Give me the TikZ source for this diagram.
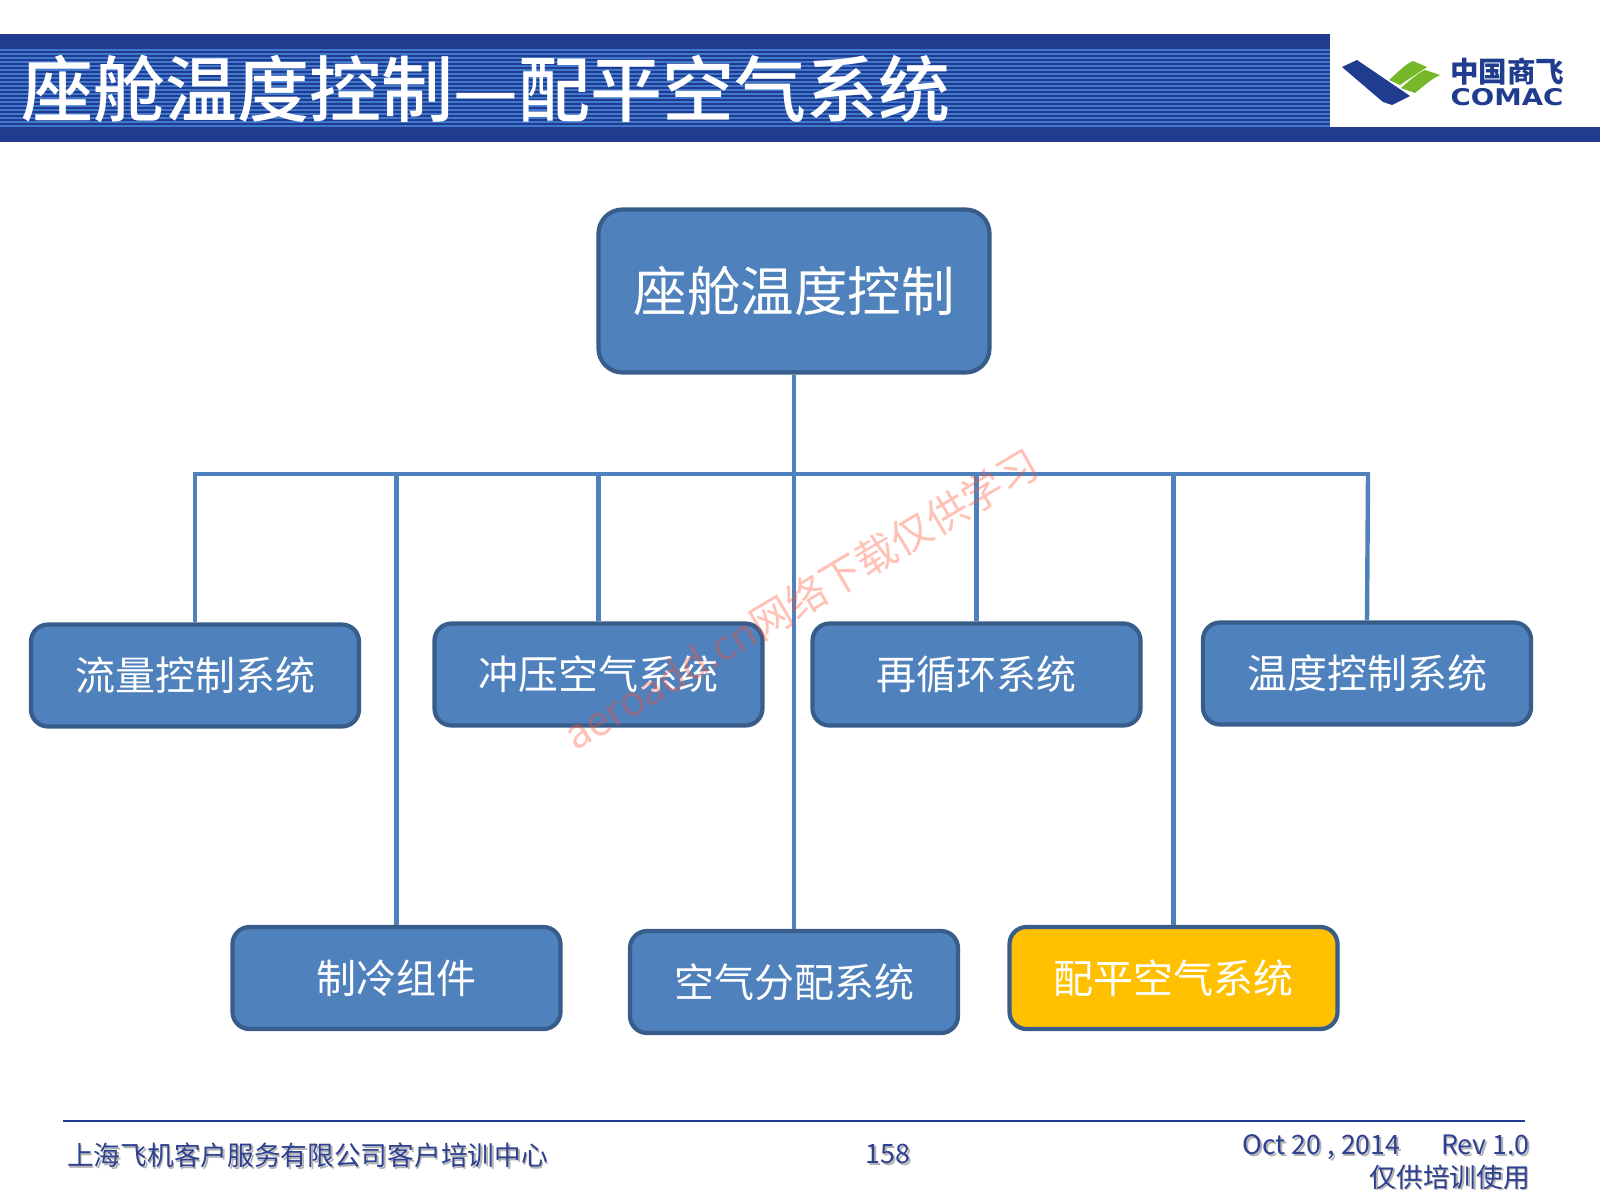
\documentclass[tikz,border=0pt]{standalone}
\usepackage{fontspec}
\setmainfont{Noto Sans CJK SC}
\newfontfamily\titlef{Noto Sans CJK SC Medium}
\newfontfamily\logof{DejaVu Sans}
\usetikzlibrary{calc}
\definecolor{barblue}{HTML}{1F3C8F}
\definecolor{stripea}{HTML}{3F78CE}
\definecolor{boxfill}{HTML}{4F81BD}
\definecolor{boxline}{HTML}{385D8A}
\definecolor{gold}{HTML}{FFC000}
\definecolor{foot}{HTML}{2E4090}
\definecolor{leaf}{HTML}{76B82A}
\definecolor{wmark}{HTML}{FF5030}
\newcommand\shtxt[1]{\leavevmode\rlap{\kern1.6pt\raisebox{-1.6pt}{\textcolor{black!30}{#1}}}#1}
\tikzset{
 sysbox/.style={draw=boxline,line width=4.2pt,fill=boxfill,rounded corners=17pt,text=white,font=\fontsize{40}{44}\selectfont,align=center,inner sep=0pt,minimum width=328pt,minimum height=102pt},
 link/.style={draw=boxfill,line width=4.4pt},
 foottext/.style={text=foot,font=\fontsize{26.7}{30}\selectfont,inner sep=0pt}
}
\begin{document}
\begin{tikzpicture}[x=1pt,y=-1pt]
\useasboundingbox (0,0) rectangle (1600,1200);
\fill[white] (0,0) rectangle (1600,1200);
% title band
\fill[barblue] (0,34) rectangle (1330,142);
\fill[barblue] (0,127) rectangle (1600,142);
\foreach \yy in {49,53,...,127}{\fill[stripea] (0,\yy) rectangle (1330,\yy+1.8);}
\node[anchor=west,inner sep=0pt,text=white,font=\titlef\fontsize{72}{76}\selectfont] (title) at (21,89) {座舱温度控制—配平空气系统};
% logo
\fill[barblue] (1342,67) -- (1357,60) -- (1410,96) -- (1392,105) -- (1383,102) -- cycle;
\fill[leaf] (1389,80) .. controls (1400,70) and (1406,64) .. (1413,61) -- (1427,67) .. controls (1420,72) and (1410,78) .. (1400,85) -- cycle;
\fill[leaf] (1401,88) .. controls (1412,78) and (1420,72) .. (1425,70) -- (1440,75) .. controls (1430,80) and (1425,85) .. (1415,93) -- cycle;
\node[text=barblue,inner sep=0pt,font=\fontsize{28.5}{30}\selectfont\bfseries] (logocn) at (1507,72) {中国商飞};
\node[text=barblue,inner sep=0pt,font=\logof\fontsize{23}{25}\selectfont\bfseries,xscale=1.2] (logoen) at (1507,97) {COMAC};
% boxes
\node[sysbox,minimum width=391pt,minimum height=163pt,rounded corners=24pt,font=\fontsize{53.5}{58}\selectfont] (top) at (794,291) {座舱温度控制};
\node[sysbox] (a) at (195,675.5) {流量控制系统};
\node[sysbox] (b) at (598.5,674.5) {冲压空气系统};
\node[sysbox] (c) at (976.5,674.5) {再循环系统};
\node[sysbox] (d) at (1367,673.5) {温度控制系统};
\node[sysbox] (e) at (396.5,978) {制冷组件};
\node[sysbox] (f) at (794,982) {空气分配系统};
\node[sysbox,fill=gold] (g) at (1173.5,978) {配平空气系统};
% connectors
\coordinate (busl) at (195,474);
\coordinate (busr) at (1368,474);
\draw[link,line cap=rect] (busl) -- (busr);
\draw[link] (top.south) -- (f.north);
\draw[link] (busl) -- (a.north);
\draw[link] (busl -| e.north) -- (e.north);
\draw[link] (busl -| b.north) -- (b.north);
\draw[link] (busl -| c.north) -- (c.north);
\draw[link] (busl -| g.north) -- (g.north);
\draw[link] (busr) -- (d.north);
% footer
\coordinate (fl) at (63,1121);
\coordinate (fr) at (1525,1121);
\draw[barblue,line width=2pt] (fl) -- (fr);
\node[foottext,anchor=west] (f1) at (67,1156) {\shtxt{上海飞机客户服务有限公司客户培训中心}};
\node[foottext] (f2) at (888,1155) {\shtxt{158}};
\node[foottext,anchor=east] (f3) at (1530,1148) {\shtxt{Oct 20 , 2014\hspace{41pt}Rev 1.0}};
\node[foottext,anchor=east] (f4) at (1530,1178) {\shtxt{仅供培训使用}};
% watermark
\node[rotate=30.8,text=wmark,opacity=.35,inner sep=0pt,font=\fontsize{41}{46}\selectfont] (wm) at (801,599) {aeroadd.cn网络下载仅供学习};
\end{tikzpicture}
\end{document}
